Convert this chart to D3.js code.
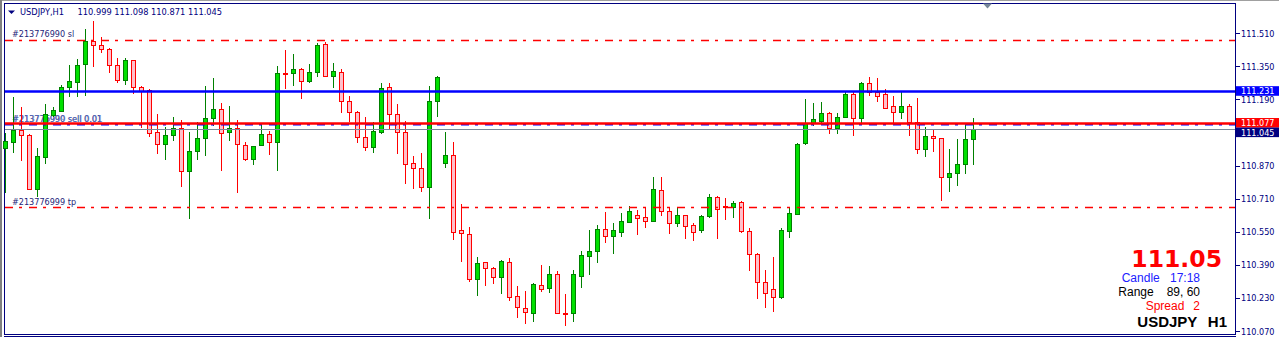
<!DOCTYPE html>
<html>
<head>
<meta charset="utf-8">
<script src="https://cdn.jsdelivr.net/npm/d3@7"></script>
<style>
html, body { margin: 0; padding: 0; background: #fff; overflow: hidden; }
svg { display: block; }
</style>
</head>
<body>
<script>
// USDJPY H1 bars, oldest first
var opens = [110.957,110.986,111.042,111.018,110.757,110.910,111.115,111.134,111.249,111.276,
  111.360,111.471,111.453,111.433,111.357,111.284,111.381,111.249,111.236,111.031,
  110.973,111.017,111.050,110.845,110.942,111.002,111.099,111.142,111.031,111.050,
  110.968,110.900,110.968,111.021,110.986,111.317,111.317,111.336,111.281,111.324,
  111.458,111.305,111.321,111.182,111.128,111.008,110.961,111.031,111.249,111.118,
  111.031,110.881,110.857,110.765,111.182,110.884,110.921,110.558,110.538,110.320,
  110.402,110.373,110.332,110.402,110.239,110.180,110.158,110.292,110.276,110.344,
  110.158,110.155,110.337,110.434,110.458,110.563,110.531,110.547,110.599,110.631,
  110.620,110.603,110.752,110.650,110.594,110.631,110.583,110.558,110.626,110.717,
  110.676,110.671,110.692,110.555,110.441,110.305,110.271,110.236,110.555,110.634,
  110.978,111.075,111.087,111.123,111.050,111.107,111.216,111.099,111.268,111.225,
  111.215,111.158,111.131,111.158,111.082,110.949,111.015,111.002,110.816,110.833,
  110.876,110.999];
var highs = [111.026,111.203,111.152,111.021,110.954,111.168,111.152,111.260,111.357,111.386,
  111.531,111.570,111.491,111.440,111.389,111.392,111.383,111.255,111.241,111.118,
  111.058,111.104,111.091,111.034,111.079,111.256,111.292,111.171,111.158,111.091,
  110.986,110.965,111.071,111.037,111.353,111.429,111.410,111.340,111.362,111.465,
  111.467,111.368,111.336,111.207,111.132,111.107,111.079,111.271,111.271,111.168,
  111.086,110.916,110.932,111.256,111.305,111.034,110.983,110.684,110.571,110.429,
  110.406,110.381,110.413,110.424,110.287,110.263,110.301,110.389,110.384,110.360,
  110.249,110.365,110.457,110.558,110.583,110.647,110.594,110.642,110.675,110.655,
  110.666,110.816,110.816,110.668,110.668,110.633,110.591,110.629,110.733,110.724,
  110.712,110.699,110.699,110.567,110.449,110.365,110.426,110.567,110.666,110.978,
  111.192,111.174,111.179,111.131,111.123,111.227,111.227,111.273,111.300,111.295,
  111.239,111.207,111.227,111.168,111.198,111.058,111.042,111.004,110.950,110.999,
  111.075,111.098];
var lows = [110.736,110.929,110.892,110.752,110.720,110.876,111.107,111.131,111.200,111.203,
  111.207,111.348,111.413,111.317,111.271,111.260,111.216,111.053,111.007,110.926,
  110.897,110.990,110.768,110.612,110.897,110.916,111.062,110.845,110.990,110.739,
  110.894,110.873,110.965,110.921,110.845,111.241,111.256,111.192,111.271,111.297,
  111.300,111.247,111.123,111.079,110.978,110.942,110.929,111.023,111.042,110.926,
  110.780,110.757,110.744,110.612,111.107,110.857,110.510,110.405,110.308,110.241,
  110.289,110.296,110.247,110.216,110.131,110.102,110.115,110.260,110.252,110.155,
  110.095,110.115,110.279,110.341,110.400,110.497,110.442,110.526,110.594,110.534,
  110.570,110.600,110.628,110.538,110.574,110.515,110.507,110.542,110.615,110.513,
  110.607,110.615,110.542,110.362,110.225,110.182,110.163,110.225,110.521,110.631,
  110.970,111.063,111.075,111.023,111.023,111.105,111.015,111.075,111.207,111.176,
  111.144,111.078,111.095,111.015,110.925,110.913,110.937,110.700,110.744,110.773,
  110.828,110.871];
var closes = [110.989,111.042,111.017,110.757,110.916,111.118,111.139,111.249,111.279,111.357,
  111.471,111.452,111.433,111.355,111.284,111.381,111.249,111.232,111.029,110.973,
  111.017,111.050,110.845,110.941,111.002,111.099,111.142,111.029,111.050,110.973,
  110.900,110.965,111.021,110.983,111.317,111.313,111.336,111.281,111.324,111.453,
  111.305,111.328,111.184,111.128,111.010,110.961,111.037,111.244,111.118,111.034,
  110.876,110.857,110.765,111.182,111.297,110.921,110.550,110.542,110.320,110.397,
  110.373,110.332,110.408,110.236,110.184,110.163,110.297,110.271,110.344,110.158,
  110.154,110.344,110.436,110.457,110.563,110.531,110.558,110.602,110.650,110.618,
  110.603,110.757,110.652,110.594,110.631,110.579,110.550,110.626,110.717,110.659,
  110.672,110.688,110.555,110.441,110.305,110.252,110.236,110.558,110.639,110.973,
  111.075,111.094,111.123,111.050,111.107,111.216,111.099,111.268,111.225,111.208,
  111.150,111.131,111.158,111.082,110.949,111.015,111.002,110.816,110.833,110.876,
  110.997,111.045];

var priceTicks = [111.510, 111.350, 111.190, 111.030, 110.870, 110.710, 110.550, 110.390, 110.230, 110.070];

var levelBlue = 111.231;   // blue level line
var levelRed = 111.077;    // red level line
var bidPrice = 111.045;    // bid line
var orderOpen = 111.069;   // sell order open
var stopLoss = 111.476;
var takeProfit = 110.668;

var width = 1279, height = 337;
var axisX = 1235;
var navy = "#000080";
var font = "'Liberation Sans', Arial, sans-serif";
var smallFont = "'DejaVu Sans Condensed', 'DejaVu Sans', sans-serif";

var svg = d3.select("body").append("svg")
  .attr("width", width)
  .attr("height", height);

svg.append("rect").attr("width", width).attr("height", height).attr("fill", "#fff");

var n = opens.length;
var x = d3.scaleLinear().domain([0, n - 1]).range([5, 973]);
var y = d3.scaleLinear().domain([110.07, 111.51]).range([331, 33.3]);

// window frame
svg.append("line").attr("x1", 0).attr("x2", width).attr("y1", 0.5).attr("y2", 0.5)
  .attr("stroke", "#a0a0a0");
svg.append("rect").attr("x", 0).attr("y", 0).attr("width", 2).attr("height", height).attr("fill", "#808080");
svg.append("line").attr("x1", 4).attr("x2", axisX).attr("y1", 3.5).attr("y2", 3.5)
  .attr("stroke", navy);
svg.append("line").attr("x1", 4.5).attr("x2", 4.5).attr("y1", 3).attr("y2", 335)
  .attr("stroke", navy);
[334.5, 336.5].forEach(function(yy) {
  svg.append("line").attr("x1", 4).attr("x2", axisX + 1).attr("y1", yy).attr("y2", yy)
    .attr("stroke", navy);
});

// order labels (under the bars)
var labels = svg.append("g").attr("font-family", smallFont).attr("font-stretch", "condensed")
  .attr("font-size", "9px");
labels.append("text").attr("x", 12).attr("y", 37).attr("fill", "#1e1e78").text("#213776990 sl");
labels.append("text").attr("x", 12).attr("y", 205).attr("fill", "#1e1e78").text("#213776999 tp");
labels.append("text").attr("x", 12).attr("y", 121.5).attr("fill", "#1e1e78").text("#213776990 sell 0.01");
labels.append("text").attr("x", 12.6).attr("y", 121.5).attr("fill", "#5a78c8").attr("opacity", 0.8)
  .text("#213776999 sell 0.01");

// candles
var bars = d3.range(n).map(function(i) {
  return {i: i, o: opens[i], h: highs[i], l: lows[i], c: closes[i]};
});

var candle = svg.append("g").selectAll("g").data(bars).enter().append("g");

candle.append("line")
  .attr("x1", function(d) { return Math.round(x(d.i)) + 0.5; })
  .attr("x2", function(d) { return Math.round(x(d.i)) + 0.5; })
  .attr("y1", function(d) { return Math.round(y(d.h)); })
  .attr("y2", function(d) { return Math.round(y(d.l)); })
  .attr("stroke", function(d) { return d.c >= d.o ? "#008000" : "#ff0000"; })
  .attr("stroke-width", 1);

candle.append("rect")
  .attr("x", function(d) { return Math.round(x(d.i)) - 1.5; })
  .attr("y", function(d) { return Math.round(y(Math.max(d.o, d.c))) + 0.5; })
  .attr("width", 4)
  .attr("height", function(d) {
    var top = Math.round(y(Math.max(d.o, d.c))), bot = Math.round(y(Math.min(d.o, d.c)));
    return Math.max(bot - top, 1);
  })
  .attr("fill", function(d) { return d.c >= d.o ? "#00e000" : "#ffc0cb"; })
  .attr("stroke", function(d) { return d.c >= d.o ? "#008000" : "#ff0000"; })
  .attr("stroke-width", 1);

// level lines
function hline(price, color, w, dash) {
  var yy = Math.round(y(price)) + 0.5;
  var l = svg.append("line")
    .attr("x1", 5).attr("x2", axisX)
    .attr("y1", yy).attr("y2", yy)
    .attr("stroke", color).attr("stroke-width", w);
  if (dash) l.attr("stroke-dasharray", dash);
  return l;
}
hline(stopLoss, "#ff0000", 1.4, "8,6,3,7");
hline(takeProfit, "#ff0000", 1.4, "8,6,3,7");
hline(bidPrice, "#778899", 1.2);
hline(orderOpen, "#0000ff", 2, "8,6,3,7");
hline(levelRed, "#ff0000", 2.5);
hline(levelBlue, "#0000ff", 2.5);

// price axis
svg.append("line").attr("x1", axisX + 0.5).attr("x2", axisX + 0.5).attr("y1", 3).attr("y2", 335)
  .attr("stroke", navy);

var fmt = d3.format(".3f");
var axis = svg.append("g").attr("font-family", smallFont).attr("font-stretch", "condensed")
  .attr("font-size", "9px");
axis.selectAll("line").data(priceTicks).enter().append("line")
  .attr("x1", axisX).attr("x2", axisX + 5)
  .attr("y1", function(d) { return Math.round(y(d)) + 0.5; })
  .attr("y2", function(d) { return Math.round(y(d)) + 0.5; })
  .attr("stroke", navy);
axis.selectAll("text").data(priceTicks).enter().append("text")
  .attr("x", axisX + 6)
  .attr("y", function(d) { return y(d) + 3.5; })
  .attr("fill", navy)
  .text(fmt);

// price tags on the axis
var redY = y(levelRed);
var tags = [
  {price: levelBlue, cy: y(levelBlue), bg: "#0000ff"},
  {price: levelRed, cy: redY, bg: "#ff0000"},
  {price: bidPrice, cy: Math.max(y(bidPrice), redY + 9.5), bg: navy}
];
var tag = svg.append("g").selectAll("g").data(tags).enter().append("g");
tag.append("rect")
  .attr("x", axisX + 1).attr("width", width - axisX - 1)
  .attr("y", function(d) { return d.cy - 4.8; }).attr("height", 9.6)
  .attr("fill", function(d) { return d.bg; });
tag.append("text")
  .attr("x", axisX + 6).attr("y", function(d) { return d.cy + 3.5; })
  .attr("font-family", smallFont).attr("font-stretch", "condensed")
  .attr("font-size", "9px").attr("fill", "#fff")
  .text(function(d) { return fmt(d.price); });

// header
svg.append("path").attr("d", "M8,10.5 L15,10.5 L11.5,14 Z").attr("fill", navy);
var header = svg.append("text").attr("x", 20).attr("y", 15)
  .attr("font-family", smallFont).attr("font-stretch", "condensed")
  .attr("font-size", "9.2px").attr("fill", navy);
header.append("tspan").text("USDJPY,H1");
header.append("tspan").attr("x", 77.5)
  .text([opens[n - 1], highs[n - 1], lows[n - 1], closes[n - 1]].map(fmt).join(" "));

// chart shift marker
svg.append("path").attr("d", "M983,3.5 L992,3.5 L987.5,8.5 Z").attr("fill", "#778899");

// info panel
var info = svg.append("g").attr("font-family", font);
info.append("text").attr("x", 1222).attr("y", 266.7).attr("text-anchor", "end")
  .attr("font-family", "'DejaVu Sans', Verdana, sans-serif").attr("font-weight", "bold")
  .attr("font-size", "23.5px").attr("fill", "#ff0000")
  .text(d3.format(".2f")(closes[n - 1]));
info.append("text").attr("x", 1121.7).attr("y", 282).attr("font-size", "12px").attr("fill", "#2020ff").text("Candle");
info.append("text").attr("x", 1200).attr("y", 282).attr("font-size", "12px").attr("fill", "#2020ff")
  .attr("text-anchor", "end").text("17:18");
info.append("text").attr("x", 1118.3).attr("y", 296.2).attr("font-size", "12px").attr("fill", "#000").text("Range");
info.append("text").attr("x", 1200).attr("y", 296.2).attr("font-size", "12px").attr("fill", "#000")
  .attr("text-anchor", "end").text("89, 60");
info.append("text").attr("x", 1145.7).attr("y", 309.7).attr("font-size", "12px").attr("fill", "#ff0000").text("Spread");
info.append("text").attr("x", 1200).attr("y", 309.7).attr("font-size", "12px").attr("fill", "#ff0000")
  .attr("text-anchor", "end").text("2");
info.append("text").attr("x", 1137.3).attr("y", 326.7).attr("font-size", "15px").attr("font-weight", "bold")
  .attr("fill", "#000").text("USDJPY");
info.append("text").attr("x", 1227).attr("y", 326.7).attr("font-size", "15px").attr("font-weight", "bold")
  .attr("fill", "#000").attr("text-anchor", "end").text("H1");
</script>
</body>
</html>
